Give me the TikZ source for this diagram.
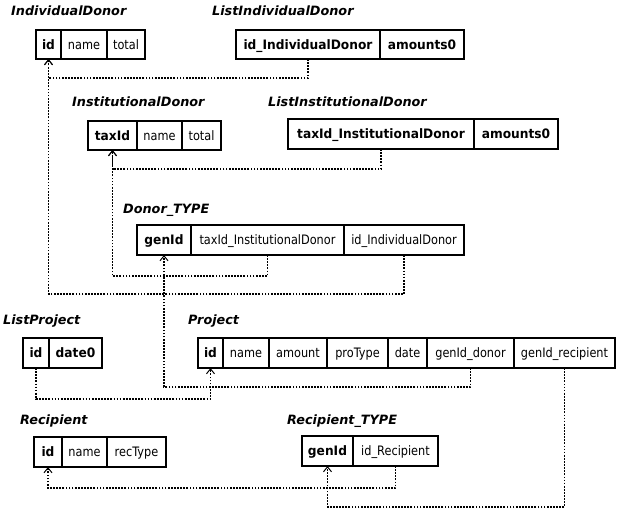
\documentclass[tikz,border=0pt]{standalone}
\usepackage{fontspec}
\setmainfont{DejaVu Sans}
\newfontfamily\cellfont[FakeStretch=0.87]{DejaVu Sans}
\newfontfamily\keyfont[FakeStretch=0.94]{DejaVu Sans}
\usetikzlibrary{arrows.meta}
\newcommand{\mkcell}[7]{\node[#6, minimum width={#3pt-#2pt}, minimum height={#5pt-#4pt}] (#1) at ({(#2+#3)/2},{(#4+#5)/2}) {#7};}
\tikzset{
  cell/.style={draw, line width=1.8pt, inner sep=0pt, outer sep=0pt, text height=10pt, text depth=1pt, font=\cellfont\fontsize{13}{15}\selectfont},
  keycell/.style={cell, font=\keyfont\fontsize{13}{15}\selectfont\bfseries},
  tabletitle/.style={anchor=base west, inner sep=0pt, font=\fontsize{12.8}{15}\selectfont\bfseries\itshape},
  conn/.style={line width=1.7pt, dash pattern=on 1.7pt off 1.4pt, -{Straight Barb[length=5pt, width=8pt, line width=1pt]}},
}
\begin{document}
\begin{tikzpicture}[x=1pt,y=-1pt]
\fill[white] (0,0) rectangle (620,509);
\useasboundingbox (0,0) rectangle (620,509);

% titles
\node[tabletitle] (tIndDonor) at (11,15) {IndividualDonor};
\node[tabletitle] (tListInd) at (212,15) {ListIndividualDonor};
\node[tabletitle] (tInstDonor) at (72,106) {InstitutionalDonor};
\node[tabletitle] (tListInst) at (268,106) {ListInstitutionalDonor};
\node[tabletitle] (tDonorType) at (123,213) {Donor\_TYPE};
\node[tabletitle] (tListProj) at (3,324) {ListProject};
\node[tabletitle] (tProj) at (188,324) {Project};
\node[tabletitle] (tRec) at (20,424) {Recipient};
\node[tabletitle] (tRecType) at (287,424) {Recipient\_TYPE};

% IndividualDonor
\mkcell{id_id}{36}{61}{30}{59}{keycell}{id}
\mkcell{id_name}{61}{107}{30}{59}{cell}{name}
\mkcell{id_total}{107}{145}{30}{59}{cell}{total}
% ListIndividualDonor
\mkcell{lid_id}{236}{380}{30}{59}{keycell}{id\_IndividualDonor}
\mkcell{lid_am}{380}{464}{30}{59}{keycell}{amounts0}
% InstitutionalDonor
\mkcell{in_tax}{88}{137}{121}{150}{keycell}{taxId}
\mkcell{in_name}{137}{182}{121}{150}{cell}{name}
\mkcell{in_total}{182}{221}{121}{150}{cell}{total}
% ListInstitutionalDonor
\mkcell{lin_tax}{288}{474}{119}{149}{keycell}{taxId\_InstitutionalDonor}
\mkcell{lin_am}{474}{558}{119}{149}{keycell}{amounts0}
% Donor_TYPE
\mkcell{dt_gen}{137}{191}{225}{255}{keycell}{genId}
\mkcell{dt_tax}{191}{344}{225}{255}{cell}{taxId\_InstitutionalDonor}
\mkcell{dt_idind}{344}{464}{225}{255}{cell}{id\_IndividualDonor}
% ListProject
\mkcell{lp_id}{23}{49}{338}{368}{keycell}{id}
\mkcell{lp_date}{49}{102}{338}{368}{keycell}{date0}
% Project
\mkcell{p_id}{198}{223}{338}{368}{keycell}{id}
\mkcell{p_name}{223}{269}{338}{368}{cell}{name}
\mkcell{p_amount}{269}{327}{338}{368}{cell}{amount}
\mkcell{p_protype}{327}{388}{338}{368}{cell}{proType}
\mkcell{p_date}{388}{427}{338}{368}{cell}{date}
\mkcell{p_gdonor}{427}{514}{338}{368}{cell}{genId\_donor}
\mkcell{p_grec}{514}{615}{338}{368}{cell}{genId\_recipient}
% Recipient
\mkcell{r_id}{34}{62}{437}{467}{keycell}{id}
\mkcell{r_name}{62}{107}{437}{467}{cell}{name}
\mkcell{r_type}{107}{166}{437}{467}{cell}{recType}
% Recipient_TYPE
\mkcell{rt_gen}{302}{353}{436}{466}{keycell}{genId}
\mkcell{rt_idr}{353}{438}{436}{466}{cell}{id\_Recipient}

% connectors
\draw[conn] (lid_id.south) -- ++(0,19) -| (id_id.south);
\draw[conn] (dt_idind.south) -- ++(0,39) -| (id_id.south);
\draw[conn] (lin_tax.south) -- ++(0,20) -| (in_tax.south);
\draw[conn] (dt_tax.south) -- ++(0,21) -| (in_tax.south);
\draw[conn] (p_gdonor.south) -- ++(0,19) -| (dt_gen.south);
\draw[conn] (lp_id.south) -- ++(0,31) -| (p_id.south);
\draw[conn] (rt_idr.south) -- ++(0,22) -| (r_id.south);
\draw[conn] (p_grec.south) -- ++(0,139) -| (rt_gen.south);
\end{tikzpicture}
\end{document}
